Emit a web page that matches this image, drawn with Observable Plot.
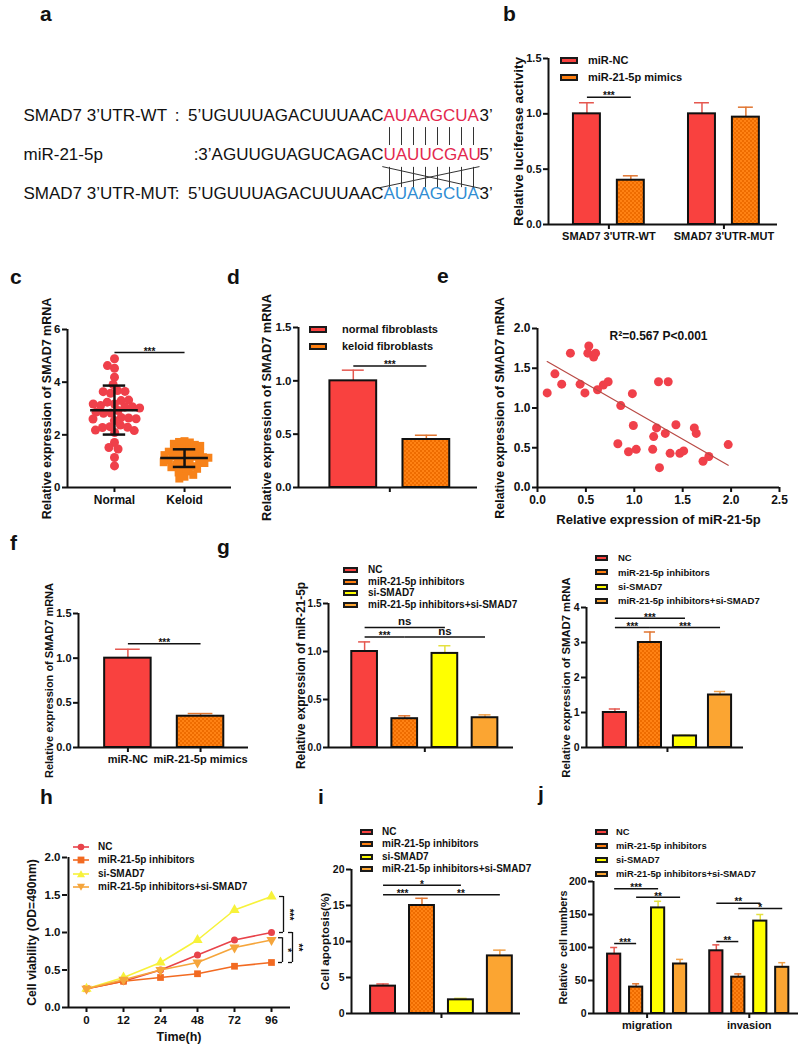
<!DOCTYPE html>
<html><head><meta charset="utf-8">
<script src="https://cdn.jsdelivr.net/npm/d3@7"></script>
<script src="https://cdn.jsdelivr.net/npm/@observablehq/plot@0.6"></script>
<style>
body{margin:0;background:#fff;}
#fig{position:relative;width:800px;height:1048px;overflow:hidden;font-family:"Liberation Sans",Arial,Helvetica,sans-serif;font-weight:bold;color:#111;background:#fff;}
.panel{position:absolute;}
.plabel{position:absolute;font-size:21px;font-weight:bold;line-height:21px;}
.leg{position:absolute;display:flex;align-items:center;white-space:nowrap;line-height:1;height:16px;}
.sw{display:inline-block;box-sizing:border-box;border:2px solid #1a1a1a;}
</style></head><body>
<svg width="0" height="0" style="position:absolute"><defs>
<pattern id="chk" width="4" height="4" patternUnits="userSpaceOnUse">
<rect width="4" height="4" fill="#FF8214"/><rect width="2" height="2" fill="#EE6C00"/><rect x="2" y="2" width="2" height="2" fill="#EE6C00"/>
</pattern></defs></svg>
<div id="fig"></div>
<script>
// ---------------- DATA ----------------
// a: sequence alignment
const seqRows = ["SMAD7 3’UTR-WT", "miR-21-5p", "SMAD7 3’UTR-MUT"];
const seqPrefix = [":\u20025’UGUUUAGACUUUAAC", ":3’AGUUGUAGUCAGAC", ":\u20025’UGUUUAGACUUUAAC"];
const seqSeed = ["AUAAGCUA", "UAUUCGAU", "AUAAGCUA"];
const seqEnd = ["3’", "5’", "3’"];
const seqSeedColor = ["#E3284E", "#E3284E", "#2F8DD3"];
const seedIndex = [0, 1, 2, 3, 4, 5, 6, 7];

// b
const bGroups = ["SMAD7 3'UTR-WT", "SMAD7 3'UTR-MUT"];
const bSeries = ["miR-NC", "miR-21-5p mimics"];
const bValues = [[1.0, 0.40], [1.0, 0.97]];
const bErrors = [[0.10, 0.04], [0.10, 0.09]];
const bSig = [{g: 0, a: 0, b: 1, y: 1.15, label: "***"}];

// c
const cGroups = ["Normal", "Keloid"];
const cNormal = [4.89,4.53,4.63,4.19,3.91,3.68,3.58,3.65,3.64,3.17,3.24,3.30,3.32,3.11,3.07,3.17,3.05,3.02,2.92,2.83,2.82,2.86,2.66,2.64,2.60,2.61,2.54,2.37,2.31,2.28,2.29,2.18,2.09,2.16,1.71,1.52,1.46,1.14,0.82];
const cKeloid = [1.76,1.73,1.71,1.66,1.62,1.58,1.52,1.49,1.44,1.41,1.39,1.36,1.33,1.31,1.27,1.24,1.23,1.19,1.17,1.15,1.13,1.09,1.07,1.04,1.01,0.99,0.96,0.93,0.91,0.86,0.83,0.81,0.77,0.71,0.66,0.61,0.57,0.48,0.41,0.34];
const cMean = [2.93, 1.12];
const cSdLow = [2.01, 0.78];
const cSdHigh = [3.87, 1.45];
const cSig = [{a: 0, b: 1, y: 5.13, label: "***"}];

// d
const dSeries = ["normal fibroblasts", "keloid fibroblasts"];
const dValues = [1.0, 0.45];
const dErrors = [0.10, 0.04];
const dSig = [{a: 0, b: 1, y: 1.14, label: "***"}];

// e
const eMiR   = [0.10,0.18,0.25,0.34,0.44,0.49,0.53,0.52,0.58,0.60,0.62,0.68,0.73,0.83,0.86,0.94,0.98,0.99,1.02,1.19,1.20,1.23,1.25,1.26,1.32,1.35,1.37,1.43,1.47,1.51,1.62,1.64,1.71,1.77,1.97];
const eSMAD7 = [1.19,1.43,1.30,1.69,1.30,1.19,1.78,1.69,1.64,1.69,1.23,1.29,1.33,0.55,1.03,0.45,1.18,0.78,0.48,0.48,0.64,0.75,1.33,0.25,0.68,1.33,0.43,0.79,0.43,0.46,0.75,0.68,0.33,0.39,0.54];
const eStat = "R²=0.567 P<0.001";

// f
const fSeries = ["miR-NC", "miR-21-5p mimics"];
const fValues = [1.0, 0.35];
const fErrors = [0.10, 0.03];
const fSig = [{a: 0, b: 1, y: 1.16, label: "***"}];

// g, h, i, j shared series
const gSeries = ["NC", "miR-21-5p inhibitors", "si-SMAD7", "miR-21-5p inhibitors+si-SMAD7"];
const gLeftValues = [1.0, 0.30, 0.98, 0.31];
const gLeftErrors = [0.10, 0.03, 0.08, 0.03];
const gLeftSig = [{a: 0, b: 2, y: 1.25, label: "ns"}, {a: 0, b: 1, y: 1.15, label: "***"}, {a: 1, b: 3, y: 1.15, label: "ns"}];
const gRightValues = [1.0, 3.0, 0.33, 1.5];
const gRightErrors = [0.10, 0.30, 0.02, 0.10];
const gRightSig = [{a: 0, b: 2, y: 3.69, label: "***"}, {a: 0, b: 1, y: 3.43, label: "***"}, {a: 1, b: 3, y: 3.43, label: "***"}];

const hTimes = ["0", "12", "24", "48", "72", "96"];
const hNC    = [0.25, 0.35, 0.50, 0.70, 0.90, 1.00];
const hInh   = [0.25, 0.35, 0.40, 0.45, 0.55, 0.60];
const hSi    = [0.25, 0.40, 0.60, 0.90, 1.30, 1.48];
const hCombo = [0.25, 0.37, 0.50, 0.60, 0.80, 0.90];
const hBrackets = [{t: "96", y1: 1.00, y2: 1.48, label: "***"}, {t: "96", y1: 0.60, y2: 0.93, label: "*"}, {t: "96", y1: 0.60, y2: 1.00, label: "**"}];

const iValues = [3.8, 15.0, 1.9, 8.0];
const iErrors = [0.3, 1.0, 0.2, 0.8];
const iSig = [{a: 0, b: 2, y: 17.8, label: "*"}, {a: 0, b: 1, y: 16.5, label: "***"}, {a: 1, b: 3, y: 16.5, label: "**"}];

const jGroups = ["migration", "invasion"];
const jValues = [[90, 40, 160, 75], [95, 55, 140, 70]];
const jErrors = [[10, 5, 10, 7], [9, 5, 10, 7]];
const jSig = [
  {g: 0, a: 0, b: 2, y: 189, label: "***"}, {g: 0, a: 1, b: 3, y: 176, label: "**"}, {g: 0, a: 0, b: 1, y: 106, label: "***"},
  {g: 1, a: 0, b: 2, y: 167, label: "**"}, {g: 1, a: 1, b: 3, y: 159, label: "*"}, {g: 1, a: 0, b: 1, y: 109, label: "**"}
];

// ---------------- STYLE ----------------
const FONT = '"Liberation Sans", Arial, Helvetica, sans-serif';
const FILL4 = ["#F9413F", "url(#chk)", "#FFFF00", "#FBA532"];
const SWATCH4 = ["#F9413F", "#FF7F10", "#FFFF00", "#FBA532"];
const ERR4 = ["#E5574F", "#E07530", "#E4E040", "#F0A048"];
const LINE4 = ["#E8434A", "#F26A21", "#F7F23A", "#F5A53B"];
const fmt1 = d3.format(".1f"), fmt0 = d3.format("d");
const fig = document.getElementById("fig");

function place(node, left, top) {
  const d = document.createElement("div");
  d.className = "panel"; d.style.left = left + "px"; d.style.top = top + "px";
  d.appendChild(node); fig.appendChild(d);
}
function label(t, x, baseline) {
  const d = document.createElement("div");
  d.className = "plabel"; d.textContent = t;
  d.style.left = x + "px"; d.style.top = (baseline - 17) + "px";
  fig.appendChild(d);
}
function legend(x, y0, step, names, colors, fs, sw, sh, gap) {
  names.forEach((n, i) => {
    const d = document.createElement("div");
    d.className = "leg"; d.style.left = x + "px"; d.style.top = (y0 + i * step - 8) + "px"; d.style.fontSize = fs + "px";
    d.innerHTML = `<span class="sw" style="width:${sw}px;height:${sh}px;background:${colors[i]};margin-right:${gap}px"></span>${n}`;
    fig.appendChild(d);
  });
}
function style(fs) {
  return {fontFamily: FONT, fontSize: fs + "px", fontWeight: "bold", background: "transparent", overflow: "visible", color: "#111"};
}
function yTitle(title, dx, fs) {
  return Plot.text([title], {frameAnchor: "left", textAnchor: "middle", lineAnchor: "middle", rotate: -90, dx, text: d => d, fontSize: fs});
}
function axes(o) {
  return [
    Plot.ruleX([o.xDomain[0]], {strokeWidth: 2, stroke: "#111"}),
    Plot.ruleY([o.yDomain[0]], {strokeWidth: 2, stroke: "#111"}),
    Plot.axisY({ticks: o.yTicks, tickFormat: o.yFormat, tickSize: 5, tickPadding: 2, strokeWidth: 2, label: null}),
    Plot.axisX({ticks: o.xTicks, tickFormat: o.xFormat, tickSize: 5, tickPadding: 3, strokeWidth: 2, label: null, fontSize: o.xFs}),
    yTitle(o.title, o.titleDx, o.titleFs)
  ];
}
function sigMarks(sigs, fs) {
  const star = sigs.filter(s => s.label !== "ns"), ns = sigs.filter(s => s.label === "ns");
  return [
    Plot.link(sigs, {x1: "x1", x2: "x2", y1: "y", y2: "y", stroke: "#111", strokeWidth: 1.5}),
    Plot.text(star, {x: d => (d.x1 + d.x2) / 2, y: "y", text: "label", dy: -1, fontSize: fs}),
    Plot.text(ns, {x: d => (d.x1 + d.x2) / 2, y: "y", text: "label", dy: -6, fontSize: fs + 1.5})
  ];
}
function barChart(o) {
  return Plot.plot({
    width: o.W, height: o.H, marginLeft: o.mL, marginRight: o.mR, marginTop: o.mT, marginBottom: o.mB,
    style: style(o.fs),
    x: {type: "linear", domain: o.xDomain},
    y: {domain: o.yDomain},
    color: {type: "identity"},
    marks: [
      Plot.ruleX(o.bars, {x: "pos", y1: "value", y2: d => d.value + d.err, stroke: "errColor", strokeWidth: 1.5}),
      Plot.ruleY(o.bars, {y: d => d.value + d.err, x1: d => d.pos - o.capHw, x2: d => d.pos + o.capHw, stroke: "errColor", strokeWidth: 1.5}),
      Plot.rectY(o.bars, {x1: d => d.pos - o.hw, x2: d => d.pos + o.hw, y: "value", fill: "fill", stroke: "#111", strokeWidth: 2}),
      ...axes(o),
      ...sigMarks(o.sigs, o.sigFs || 10)
    ]
  });
}
function singleBars(values, errors, fills, errs) {
  return values.map((v, i) => ({pos: i, value: v, err: errors[i], fill: fills[i], errColor: errs[i]}));
}
function sigRows(sigs, posOf) {
  return sigs.map(s => ({x1: posOf(s, s.a), x2: posOf(s, s.b), y: s.y, label: s.label}));
}

// ---------------- PANEL a ----------------
place(Plot.plot({
  width: 500, height: 220, margin: 0,
  style: {...style(17), fontWeight: "normal"},
  x: {domain: [-30, 9], range: [23, 491], axis: null},
  y: {domain: [0, 2], range: [115, 193], axis: null},
  color: {type: "identity"},
  marks: [
    Plot.text(seqRows, {x: -30, y: (d, i) => i, text: d => d, textAnchor: "start"}),
    Plot.text(seqPrefix, {x: 0, y: (d, i) => i, text: d => d, textAnchor: "end"}),
    Plot.text(seqSeed, {x: 0, y: (d, i) => i, text: d => d, textAnchor: "start", fill: (d, i) => seqSeedColor[i]}),
    Plot.text(seqEnd, {x: 8, y: (d, i) => i, text: d => d, textAnchor: "start"}),
    Plot.ruleX(seedIndex, {x: d => d + 0.5, y1: 0.31, y2: 0.77, stroke: "#333", strokeWidth: 1}),
    Plot.ruleX(seedIndex, {x: d => d + 0.5, y1: 1.33, y2: 1.85, stroke: "#333", strokeWidth: 1}),
    Plot.link([{x1: -0.3, y1: 1.85, x2: 8, y2: 1.31}, {x1: -0.1, y1: 1.31, x2: 8.1, y2: 1.87}],
      {x1: "x1", y1: "y1", x2: "x2", y2: "y2", stroke: "#333", strokeWidth: 1})
  ]
}), 0, 0);
label("a", 40, 20);

// ---------------- PANEL b ----------------
{
  const gap = 2.62;
  const bars = [];
  bGroups.forEach((g, gi) => bSeries.forEach((s, si) => bars.push({pos: gi * gap + si, value: bValues[gi][si], err: bErrors[gi][si], fill: FILL4[si], errColor: ERR4[si]})));
  const centers = bGroups.map((g, gi) => gi * gap + 0.5);
  place(barChart({
    W: 310, H: 250, mL: 58, mR: 23, mT: 58, mB: 26, fs: 11, xFs: 11,
    xDomain: [-0.875, 4.34], yDomain: [0, 1.5], yTicks: [0, 0.5, 1, 1.5], yFormat: fmt1,
    xTicks: centers, xFormat: d => bGroups[centers.indexOf(d)],
    title: "Relative luciferase activity", titleDx: -30, titleFs: 13.5,
    hw: 0.307, capHw: 0.17, bars,
    sigs: sigRows(bSig, (s, k) => s.g * gap + k)
  }), 490, 0);
  legend(560, 60, 17, bSeries, SWATCH4, 11, 18, 7, 10);
  label("b", 503, 20);
}

// ---------------- PANEL c ----------------
{
  const stats = cGroups.map((g, i) => ({pos: i, mean: cMean[i], lo: cSdLow[i], hi: cSdHigh[i]}));
  const o = {xDomain: [-0.67, 1.67], yDomain: [0, 6], yTicks: [0, 2, 4, 6], yFormat: fmt0, xTicks: [0, 1], xFormat: d => cGroups[d], xFs: 12,
    title: "Relative expression of SMAD7 mRNA", titleDx: -21, titleFs: 12.5};
  place(Plot.plot({
    width: 240, height: 275, marginLeft: 67, marginRight: 9, marginTop: 89, marginBottom: 28,
    style: style(11.5), x: {domain: o.xDomain}, y: {domain: o.yDomain},
    marks: [
      Plot.dot(cNormal, Plot.dodgeX({anchor: "middle", padding: -1.5}, {y: d => d, r: 4.5, fill: "#EF404A", dx: -35})),
      Plot.dot(cKeloid, Plot.dodgeX({anchor: "middle", padding: -3.5}, {y: d => d, r: 4.5, symbol: "square", fill: "#F7821A", dx: 35})),
      Plot.ruleY(stats, {y: "mean", x1: d => d.pos - 0.34, x2: d => d.pos + 0.34, stroke: "#111", strokeWidth: 2.5}),
      Plot.ruleY(stats, {y: "lo", x1: d => d.pos - 0.16, x2: d => d.pos + 0.16, stroke: "#111", strokeWidth: 2.5}),
      Plot.ruleY(stats, {y: "hi", x1: d => d.pos - 0.16, x2: d => d.pos + 0.16, stroke: "#111", strokeWidth: 2.5}),
      Plot.ruleX(stats, {x: "pos", y1: "lo", y2: "hi", stroke: "#111", strokeWidth: 2.5}),
      ...axes(o),
      ...sigMarks(sigRows(cSig, (s, k) => k), 10)
    ]
  }), 0, 240);
  label("c", 10, 283);
}

// ---------------- PANEL d ----------------
place(barChart({
  W: 255, H: 270, mL: 68, mR: 8, mT: 87, mB: 23, fs: 11.5,
  xDomain: [-0.75, 1.7], yDomain: [0, 1.5], yTicks: [0, 0.5, 1, 1.5], yFormat: fmt1,
  xTicks: [0.5], xFormat: () => "",
  title: "Relative expression of SMAD7 mRNA", titleDx: -32, titleFs: 12.8,
  hw: 0.32, capHw: 0.15, bars: singleBars(dValues, dErrors, FILL4, ERR4),
  sigs: sigRows(dSig, (s, k) => k)
}), 230, 240);
legend(309, 329, 17, dSeries, SWATCH4, 11, 18, 7, 15);
label("d", 227, 283);

// ---------------- PANEL e ----------------
{
  const pts = eMiR.map((x, i) => ({x, y: eSMAD7[i]}));
  const o = {xDomain: [0, 2.5], yDomain: [0, 2], yTicks: [0, 0.5, 1, 1.5, 2], yFormat: fmt1,
    xTicks: [0, 0.5, 1, 1.5, 2, 2.5], xFormat: fmt1, xFs: 12,
    title: "Relative expression of SMAD7 mRNA", titleDx: -38, titleFs: 12.5};
  place(Plot.plot({
    width: 320, height: 295, marginLeft: 57, marginRight: 21, marginTop: 88, marginBottom: 48,
    style: style(12), x: {domain: o.xDomain}, y: {domain: o.yDomain},
    marks: [
      Plot.dot(pts, {x: "x", y: "y", r: 4.5, fill: "#F0404A"}),
      Plot.linearRegressionY(pts, {x: "x", y: "y", stroke: "#B94A45", strokeWidth: 1.2, ci: 0}),
      ...axes(o),
      Plot.text([eStat], {frameAnchor: "top", text: d => d, dy: 3, fontSize: 12}),
      Plot.text(["Relative expression of miR-21-5p"], {frameAnchor: "bottom", text: d => d, dy: 36, fontSize: 13})
    ]
  }), 480, 240);
  label("e", 437, 282);
}

// ---------------- PANEL f ----------------
place(barChart({
  W: 250, H: 275, mL: 78, mR: 2, mT: 113, mB: 28, fs: 11, xFs: 11,
  xDomain: [-0.68, 1.66], yDomain: [0, 1.5], yTicks: [0, 0.5, 1, 1.5], yFormat: fmt1,
  xTicks: [0, 1], xFormat: d => fSeries[d],
  title: "Relative expression of SMAD7 mRNA", titleDx: -29, titleFs: 11,
  hw: 0.32, capHw: 0.17, bars: singleBars(fValues, fErrors, FILL4, ERR4),
  sigs: sigRows(fSig, (s, k) => k)
}), 0, 500);
label("f", 10, 549);

// ---------------- PANEL g ----------------
place(barChart({
  W: 280, H: 270, mL: 88, mR: 7, mT: 103, mB: 23, fs: 10,
  xDomain: [-0.9, 3.71], yDomain: [0, 1.5], yTicks: [0, 0.5, 1, 1.5], yFormat: fmt1,
  xTicks: [1.5], xFormat: () => "",
  title: "Relative expression of miR-21-5p", titleDx: -27, titleFs: 11.9,
  hw: 0.32, capHw: 0.15, bars: singleBars(gLeftValues, gLeftErrors, FILL4, ERR4),
  sigs: sigRows(gLeftSig, (s, k) => k)
}), 240, 500);
legend(343, 570, 11.7, gSeries, SWATCH4, 10, 15, 6, 10);

place(barChart({
  W: 280, H: 270, mL: 66, mR: 57, mT: 107, mB: 23, fs: 10.5,
  xDomain: [-0.81, 3.67], yDomain: [0, 4], yTicks: [0, 1, 2, 3, 4], yFormat: fmt0,
  xTicks: [1.5], xFormat: () => "",
  title: "Relative expression of SMAD7 mRNA", titleDx: -20, titleFs: 11.3,
  hw: 0.33, capHw: 0.16, bars: singleBars(gRightValues, gRightErrors, FILL4, ERR4),
  sigs: sigRows(gRightSig, (s, k) => k)
}), 520, 500);
legend(595, 558, 14.3, gSeries, SWATCH4, 9.5, 13, 6, 10);
label("g", 217, 553);

// ---------------- PANEL h ----------------
{
  const series = [hNC, hInh, hSi, hCombo];
  const symbols = ["circle", "square", "triangle", "triangle"];
  const rots = [0, 0, 0, 180];
  const rows = series.flatMap((vals, si) => vals.map((v, ti) => ({t: hTimes[ti], v, s: gSeries[si]})));
  const marks = [
    Plot.ruleY([0], {strokeWidth: 2, stroke: "#111"}),
    Plot.axisY({ticks: [0, 0.5, 1, 1.5, 2], tickFormat: fmt1, tickSize: 5, tickPadding: 2, strokeWidth: 2, label: null}),
    Plot.axisX({tickSize: 5, tickPadding: 3, strokeWidth: 2, label: null}),
    yTitle("Cell viability (OD=490nm)", -35, 12.2),
    Plot.text(["Time(h)"], {frameAnchor: "bottom", text: d => d, dy: 33, fontSize: 12.5})
  ];
  series.forEach((vals, si) => {
    const r = rows.filter(d => d.s === gSeries[si]);
    marks.push(Plot.line(r, {x: "t", y: "v", stroke: LINE4[si], strokeWidth: 1.6}));
    marks.push(Plot.dot(r, {x: "t", y: "v", symbol: symbols[si], rotate: rots[si], r: si === 0 ? 3.5 : 3.8, fill: LINE4[si]}));
  });
  const brOff = [12, 11, 21], txOff = [18, 16, 27];
  hBrackets.forEach((b, k) => {
    marks.push(Plot.ruleX([b], {x: "t", y1: "y1", y2: "y2", dx: brOff[k], stroke: "#111", strokeWidth: 1.3}));
    marks.push(Plot.ruleY([b], {y: "y1", x1: "t", x2: "t", insetLeft: brOff[k] - 4, insetRight: -brOff[k], stroke: "#111", strokeWidth: 1.3}));
    marks.push(Plot.ruleY([b], {y: "y2", x1: "t", x2: "t", insetLeft: brOff[k] - 4, insetRight: -brOff[k], stroke: "#111", strokeWidth: 1.3}));
    marks.push(Plot.text([b], {x: "t", y: d => (d.y1 + d.y2) / 2, text: "label", rotate: 90, dx: txOff[k], fontSize: 10}));
  });
  const hPlot = Plot.plot({
    width: 310, height: 268, marginLeft: 67, marginRight: 20, marginTop: 77, marginBottom: 41,
    style: style(11.5),
    x: {type: "point", domain: hTimes, padding: 0.48},
    y: {domain: [0, 2]},
    marks: [Plot.ruleX([0], {x: () => hTimes[0], dx: -18, strokeWidth: 2, stroke: "#111"}), ...marks]
  });
  place(hPlot, 0, 780);
  // line+marker legend
  const shapes = [
    c => `<circle cx="8" cy="5" r="3.3" fill="${c}"/>`,
    c => `<rect x="4.6" y="1.6" width="6.8" height="6.8" fill="${c}"/>`,
    c => `<path d="M8,1.2L12,8.2L4,8.2Z" fill="${c}"/>`,
    c => `<path d="M8,8.8L12,1.8L4,1.8Z" fill="${c}"/>`
  ];
  gSeries.forEach((n, i) => {
    const d = document.createElement("div");
    d.className = "leg"; d.style.left = "73px"; d.style.top = (847 + i * 13.3 - 8) + "px"; d.style.fontSize = "10px";
    d.innerHTML = `<svg width="16" height="10" style="margin-right:9px"><line x1="0" y1="5" x2="16" y2="5" stroke="${LINE4[i]}" stroke-width="1.6"/>${shapes[i](LINE4[i])}</svg>${n}`;
    fig.appendChild(d);
  });
  label("h", 40, 803);
}

// ---------------- PANEL i ----------------
place(barChart({
  W: 270, H: 268, mL: 86, mR: 15, mT: 89, mB: 35, fs: 10.5,
  xDomain: [-0.81, 3.53], yDomain: [0, 20], yTicks: [0, 5, 10, 15, 20], yFormat: fmt0,
  xTicks: [1.5], xFormat: () => "",
  title: "Cell apoptosis(%)", titleDx: -26, titleFs: 11.6,
  hw: 0.32, capHw: 0.16, bars: singleBars(iValues, iErrors, FILL4, ERR4),
  sigs: sigRows(iSig, (s, k) => k)
}), 265, 780);
legend(360, 832, 12.3, gSeries, SWATCH4, 10, 13, 6, 9);
label("i", 318, 803);

// ---------------- PANEL j ----------------
{
  const gap = 4.65;
  const bars = [];
  jGroups.forEach((g, gi) => gSeries.forEach((s, si) => bars.push({pos: gi * gap + si, value: jValues[gi][si], err: jErrors[gi][si], fill: FILL4[si], errColor: ERR4[si]})));
  const centers = jGroups.map((g, gi) => gi * gap + 1.5);
  place(barChart({
    W: 270, H: 268, mL: 63, mR: 2, mT: 101, mB: 35, fs: 10.5, xFs: 11,
    xDomain: [-0.94, 8.39], yDomain: [0, 200], yTicks: [0, 50, 100, 150, 200], yFormat: fmt0,
    xTicks: centers, xFormat: d => jGroups[centers.indexOf(d)],
    title: "Relative  cell numbers", titleDx: -30, titleFs: 10.8,
    hw: 0.3, capHw: 0.16, bars,
    sigs: sigRows(jSig, (s, k) => s.g * gap + k)
  }), 530, 780);
  legend(595, 832, 14, gSeries, SWATCH4, 9.4, 13, 6, 8);
  label("j", 538, 800);
}
</script>
</body></html>
